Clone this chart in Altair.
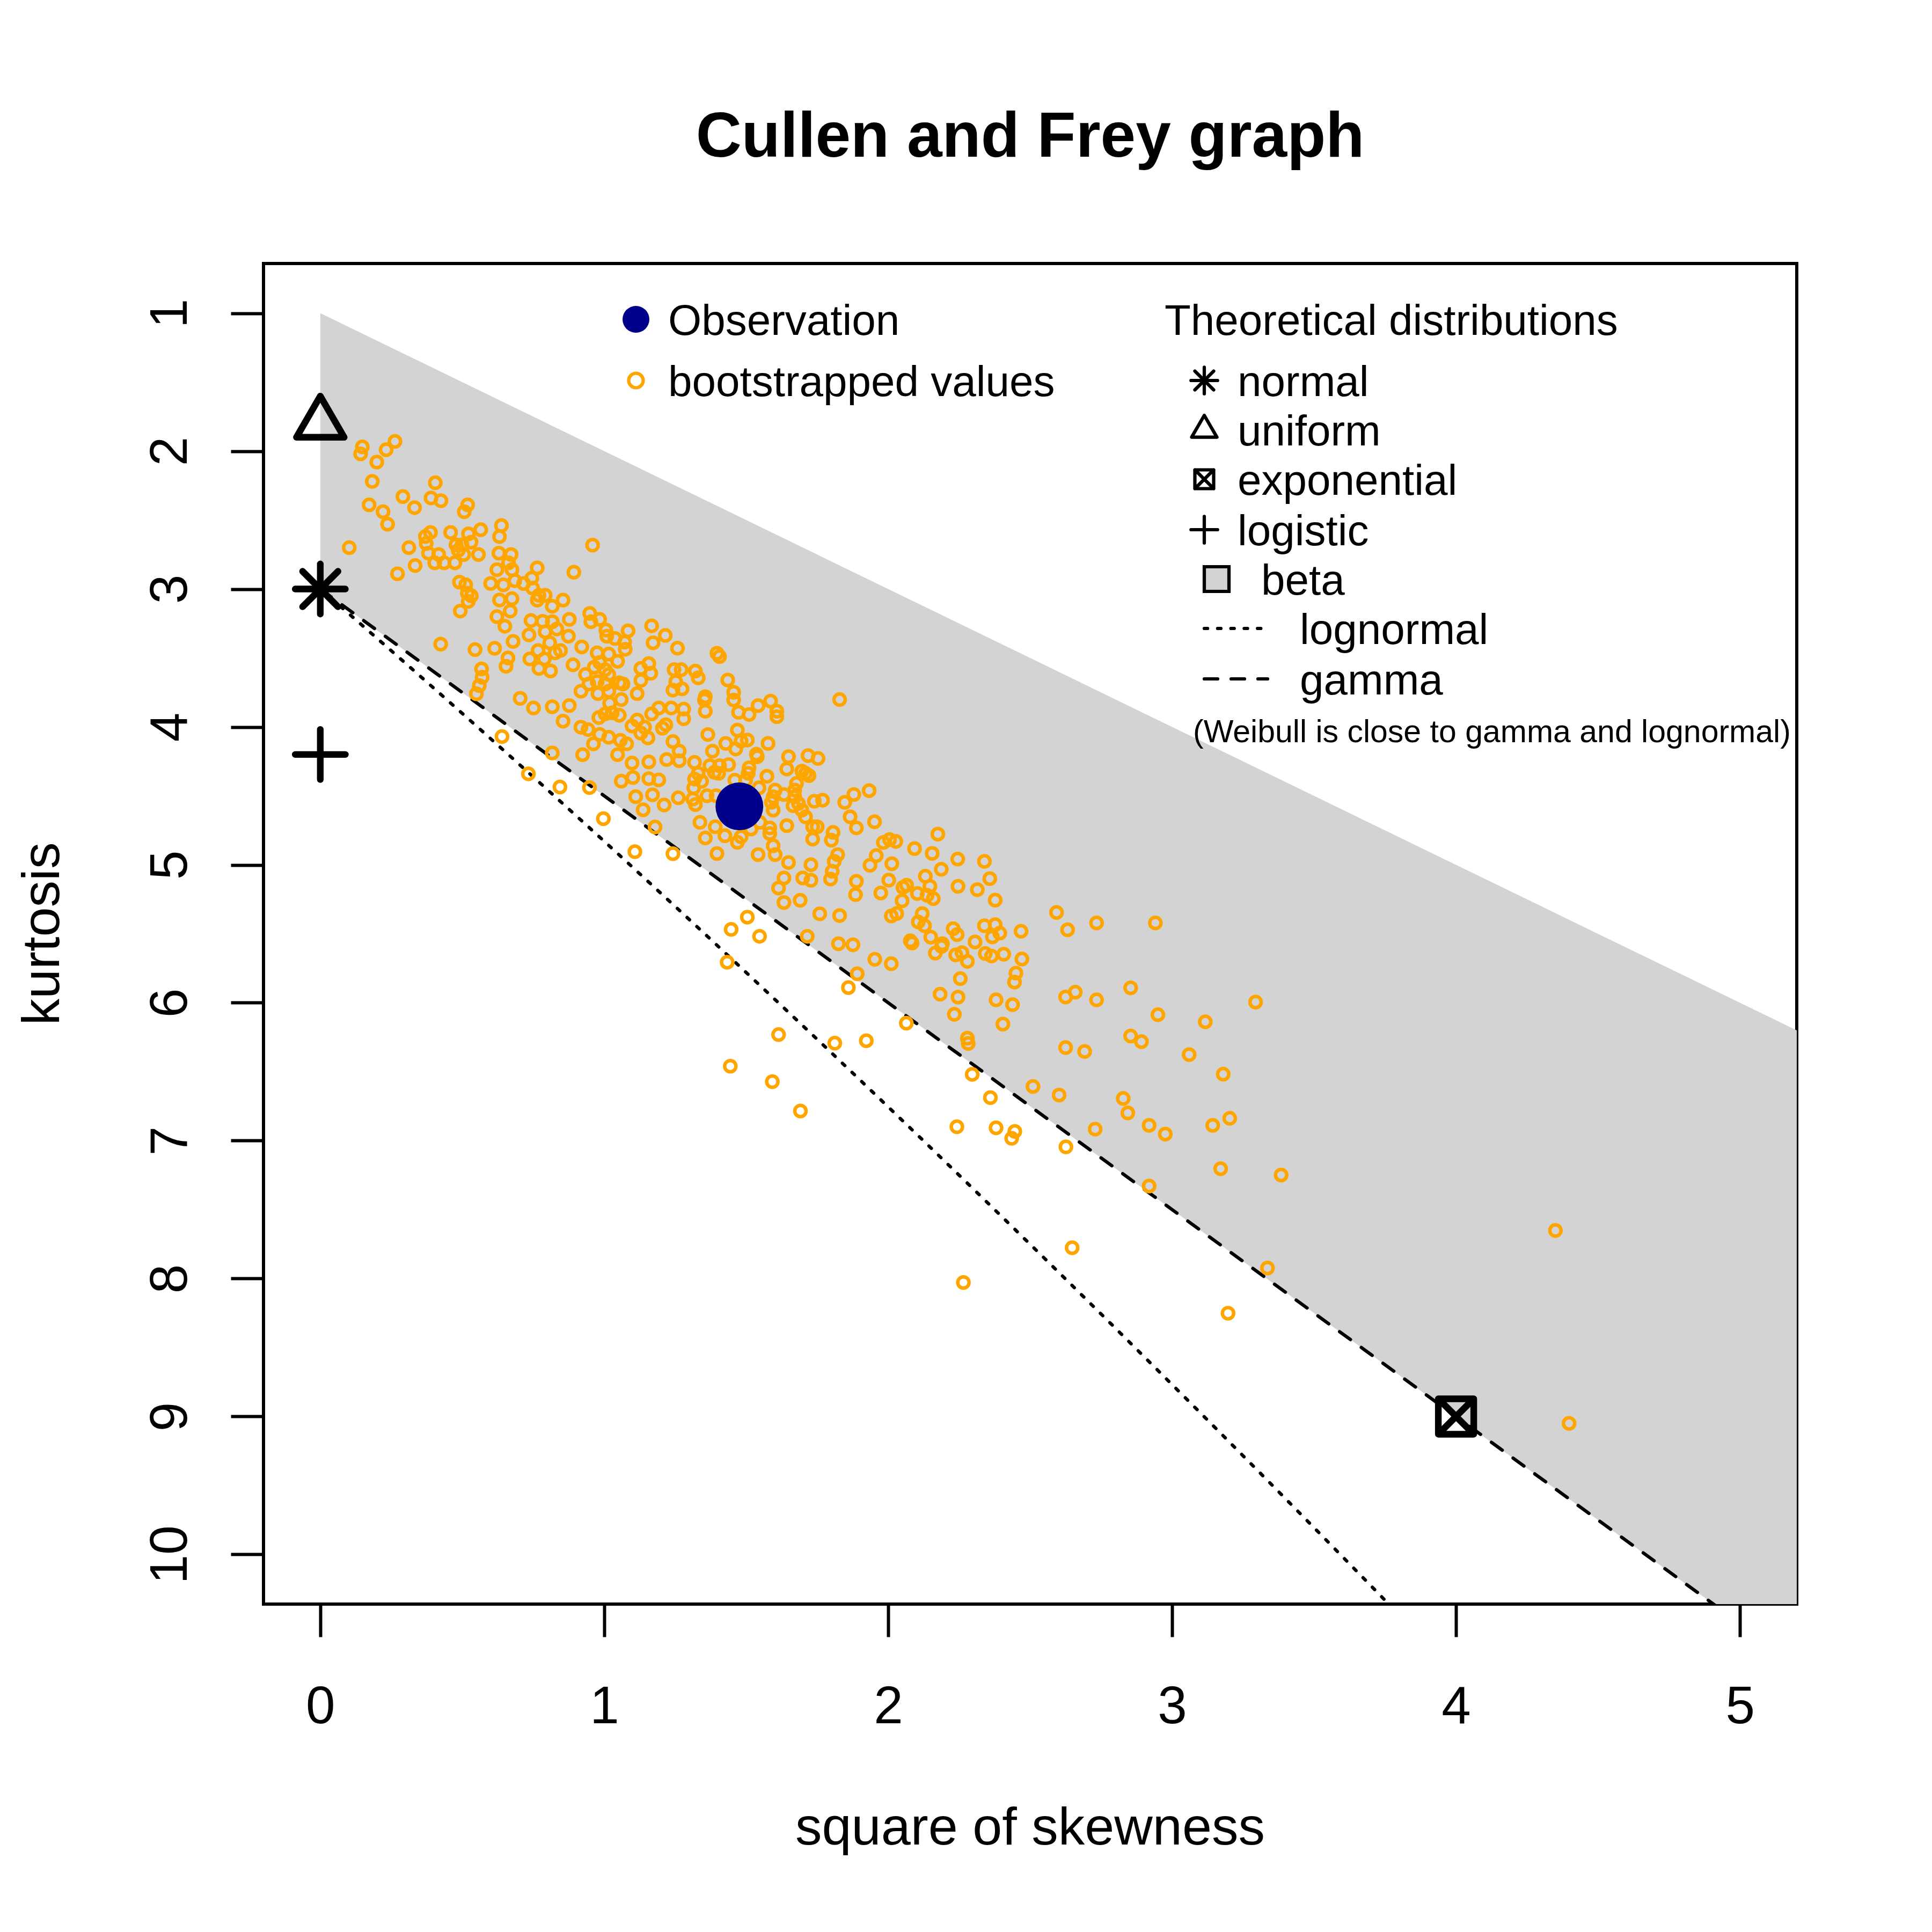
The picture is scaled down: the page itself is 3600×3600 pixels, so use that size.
import altair as alt
import numpy as np
import pandas as pd

FONT = "Liberation Sans"

# ---------------- data ----------------
boot_x = [
0.148,0.142,0.232,0.263,0.199,0.183,0.405,0.291,0.390,0.425,0.332,0.172,0.221,0.237,0.519,0.507,0.638,0.631,0.102,0.312,
0.370,0.388,0.459,0.522,0.565,0.373,0.478,0.531,0.499,0.381,0.417,0.486,0.505,0.557,0.403,0.436,0.474,0.334,0.272,0.629,
0.672,0.663,0.622,0.675,0.490,0.512,0.600,0.645,0.518,0.532,0.521,0.493,0.631,0.675,0.622,0.650,0.669,0.685,0.679,0.424,
0.545,0.614,0.661,0.568,0.654,
0.959,0.893,0.764,0.745,0.716,0.748,0.770,0.792,0.764,0.817,0.855,0.742,0.783,0.817,0.735,0.792,0.833,0.877,0.874,0.808,
0.767,0.738,0.789,0.827,0.846,0.811,0.770,0.921,0.890,0.949,0.953,0.984,1.006,1.009,1.038,1.084,1.072,1.074,0.975,1.016,
0.984,1.047,0.934,0.965,1.003,0.918,0.946,0.975,1.003,1.016,0.978,1.016,1.053,1.066,1.060,1.019,1.028,1.053,0.981,1.003,
1.167,1.215,1.172,1.258,1.129,1.157,1.164,1.129,1.116,1.246,1.271,1.252,1.274,1.242,1.192,1.167,1.236,1.280,1.280,1.217,
1.205,1.116,1.098,1.142,1.154,1.129,0.704,0.751,0.817,0.877,0.855,0.918,0.943,0.984,1.016,0.962,1.057,1.079,0.924,1.047,
1.098,1.157,1.101,1.060,1.157,1.192,1.220,1.242,1.264,1.264,1.111,1.170,1.261,1.211,1.137,1.179,0.817,0.733,0.844,0.948,
0.997,1.108,1.242,
1.397,1.406,1.829,1.321,1.331,1.435,1.456,1.456,1.356,1.353,1.356,1.473,1.510,1.542,1.586,1.608,1.608,1.365,1.469,1.428,
1.482,1.504,1.463,1.381,1.577,1.539,1.536,1.649,1.718,1.753,1.643,1.696,1.721,1.709,1.318,1.372,1.406,1.438,1.403,1.388,
1.331,1.318,1.343,1.315,1.510,1.507,1.460,1.498,1.573,1.677,1.671,1.545,1.602,1.633,1.595,1.589,1.671,1.684,1.696,1.665,
1.595,1.362,1.394,1.321,1.312,1.740,1.769,1.847,1.879,1.866,1.888,1.337,1.391,1.356,1.425,1.469,1.482,1.517,1.548,1.583,
1.583,1.643,1.709,1.734,1.750,1.734,1.806,1.800,1.397,1.542,1.595,1.602,1.649,1.728,1.822,1.810,1.797,1.803,1.633,1.614,
1.699,1.728,1.633,1.690,1.888,1.885,
1.504,1.447,1.547,1.715,1.825,1.876,1.433,1.891,1.860,1.614,1.812,1.444,1.592,1.691,1.759,1.829,
1.933,1.952,2.175,2.093,2.155,2.187,2.245,2.339,2.358,2.314,2.377,1.983,2.005,2.027,1.958,1.936,2.013,2.002,1.974,2.052,
2.065,2.049,2.131,2.147,2.103,2.137,2.159,2.246,2.030,2.011,2.120,2.106,2.128,2.150,2.078,2.084,2.191,2.188,2.166,2.229,
2.243,2.306,2.339,2.377,2.367,2.393,2.468,2.238,2.260,2.279,2.342,2.364,2.407,2.471,2.450,2.445,1.953,2.011,2.254,2.183,
2.246,2.380,2.438,2.233,
2.593,2.632,2.734,2.941,2.625,2.659,2.734,2.854,2.950,
2.064,1.923,2.404,2.279,2.282,2.625,2.692,2.854,2.892,3.060,2.296,2.360,2.510,2.602,2.828,2.844,2.919,2.976,2.729,2.242,
2.380,2.446,2.435,2.626,2.919,2.648,2.265,
3.117,3.294,3.180,3.203,3.143,3.171,3.384,3.336,3.197,
4.350,4.398,
0.560,0.550,0.570,0.640,
]
boot_y = [
1.97,2.02,1.99,1.93,2.08,2.22,2.23,2.33,2.34,2.36,2.41,2.39,2.44,2.53,2.39,2.44,2.54,2.62,2.70,2.70,
2.62,2.59,2.59,2.60,2.57,2.67,2.68,2.66,2.68,2.74,2.75,2.72,2.75,2.75,2.81,2.81,2.81,2.83,2.89,2.74,
2.75,2.81,2.86,2.86,2.95,2.97,2.96,2.97,3.03,3.05,3.09,3.16,3.08,3.07,3.20,3.27,3.16,2.94,3.38,3.40,
3.44,3.43,3.50,3.58,3.56,
2.682,2.878,2.847,2.921,2.960,2.994,3.046,3.046,3.081,3.125,3.081,3.229,3.234,3.237,3.333,3.310,3.290,3.220,3.342,3.390,
3.446,3.507,3.507,3.463,3.446,3.594,3.576,3.420,3.550,3.177,3.237,3.220,3.298,3.342,3.359,3.303,3.385,3.437,3.463,3.472,
3.533,3.524,3.620,3.567,3.585,3.741,3.689,3.672,3.689,3.620,3.759,3.741,3.680,3.689,3.802,3.828,3.898,3.915,3.932,3.906,
3.267,3.337,3.390,3.429,3.576,3.541,3.611,3.663,3.759,3.585,3.585,3.672,3.724,3.733,3.863,3.906,3.863,3.871,3.941,3.984,
4.010,3.950,3.993,4.002,4.080,4.045,3.793,3.863,3.854,3.845,3.958,4.002,4.019,4.054,4.075,4.123,4.097,4.123,4.201,4.201,
4.262,4.254,4.367,4.393,4.375,4.384,4.236,4.106,4.175,4.245,4.506,4.492,4.514,4.566,4.601,4.726,4.189,4.340,4.436,4.440,
4.665,4.905,4.919,
3.466,3.490,3.802,3.595,3.644,3.660,3.749,3.805,3.781,3.805,3.886,3.894,3.910,3.845,3.813,3.886,3.926,4.055,4.023,4.120,
4.103,4.095,4.160,4.176,4.120,4.216,4.197,4.216,4.208,4.229,4.305,4.321,4.353,4.337,4.257,4.281,4.281,4.273,4.337,4.329,
4.337,4.378,4.394,4.442,4.297,4.337,4.386,4.386,4.358,4.410,4.458,4.442,4.458,4.490,4.507,4.547,4.507,4.555,4.603,4.571,
4.603,4.499,4.499,4.563,4.523,4.539,4.531,4.547,4.490,4.652,4.732,4.692,4.724,4.805,4.789,4.837,4.797,4.740,4.692,4.732,
4.773,4.716,4.652,4.724,4.724,4.813,4.765,4.821,4.918,4.926,4.862,4.926,4.983,4.999,4.926,4.975,5.103,5.047,5.095,5.168,
5.095,5.112,5.273,5.257,5.120,5.216,
5.379,5.468,5.518,5.518,5.572,5.580,5.706,5.790,5.890,6.231,6.293,6.460,6.572,6.785,5.355,5.368,
4.462,4.688,4.777,4.882,4.917,5.032,4.958,4.975,5.100,5.180,5.256,4.838,4.817,4.830,4.933,5.003,4.992,5.111,5.204,5.164,
5.148,5.261,5.083,5.156,5.208,5.221,5.245,5.156,5.353,5.371,5.354,5.414,5.442,5.524,5.551,5.567,5.572,5.592,5.640,5.463,
5.506,5.559,5.442,5.434,5.522,5.495,5.482,5.653,5.637,5.700,5.643,5.661,5.648,5.683,5.785,5.850,5.685,5.717,5.825,5.938,
5.959,5.979,6.014,6.084,
5.345,5.471,5.421,5.421,5.958,5.923,5.979,5.892,6.087,
6.148,6.275,6.155,6.257,6.295,6.325,6.353,6.241,6.282,6.376,6.519,6.688,6.607,6.669,6.694,6.799,6.889,6.952,6.916,6.899,
6.907,6.933,6.983,7.045,7.329,7.776,8.028,
6.138,5.995,6.518,6.838,6.889,7.203,7.249,7.923,8.251,
7.651,9.050,
3.70,3.76,3.64,4.07,
]

obs_x = [1.476]
obs_y = [4.576]

theo_names = ["normal", "uniform", "exponential", "logistic"]
theo_x = [0.0, 0.0, 4.0, 0.0]
theo_y = [3.0, 1.8, 9.0, 4.2]

# beta region bounded by kurtosis = s2 + 1 and the gamma line kurtosis = 3 + 1.5 s2
beta_x = [0.0, 5.2]
beta_top = [1.0, 6.2]
beta_bottom = [3.0, 10.8]

gamma_x = [0.0, 5.2]
gamma_y = [3.0, 10.8]

# lognormal theoretical curve (parametrised by w = exp(sigma^2))
w = np.linspace(1.0, 1.4, 160)
logn_x = list((w + 2) ** 2 * (w - 1))
logn_y = list(w ** 4 + 2 * w ** 3 + 3 * w ** 2 - 3)

x_ticks = [0, 1, 2, 3, 4, 5]
y_ticks = [1, 2, 3, 4, 5, 6, 7, 8, 9, 10]

# ---------------- build ----------------
boot_df = pd.DataFrame({"x": boot_x, "y": boot_y})
obs_df = pd.DataFrame({"x": obs_x, "y": obs_y})
theo_df = pd.DataFrame({"name": theo_names, "x": theo_x, "y": theo_y})
beta_df = pd.DataFrame({"x": beta_x, "top": beta_top, "bottom": beta_bottom})
gamma_df = pd.DataFrame({"x": gamma_x, "y": gamma_y})
logn_df = pd.DataFrame({"x": logn_x, "y": logn_y})
one = pd.DataFrame({"k": [0]})

W, H = 2857, 2498
xs = alt.Scale(domain=[-0.2, 5.2], nice=False, zero=False)
ys = alt.Scale(domain=[0.64, 10.36], nice=False, zero=False, reverse=True)
AXX = alt.Axis(values=x_ticks, format="d", title=None, labelBaseline="alphabetic",
               labelPadding=160, labelAlign="center")
AXY = alt.Axis(values=y_ticks, format="d", title=None, labelAngle=270, labelAlign="center",
               labelBaseline="alphabetic", labelPadding=83)

def X(f="x"):
    return alt.X(f + ":Q", scale=xs, axis=AXX)

def Y(f="y"):
    return alt.Y(f + ":Q", scale=ys, axis=AXY)

LW = 6.2
ASTER = "M-0.934,0L0.934,0M0,-0.934L0,0.934M-0.66,-0.66L0.66,0.66M-0.66,0.66L0.66,-0.66"
TRI = "M0,-1.02L0.889,0.514L-0.889,0.514Z"
SQX = "M-0.66,-0.66L0.66,-0.66L0.66,0.66L-0.66,0.66ZM-0.66,-0.66L0.66,0.66M-0.66,0.66L0.66,-0.66"
PLUS = "M-0.934,0L0.934,0M0,-0.934L0,0.934"
SHAPES = {"normal": ASTER, "uniform": TRI, "exponential": SQX, "logistic": PLUS}

beta = alt.Chart(beta_df).mark_area(color="#D3D3D3", opacity=1, clip=True).encode(
    x=X(), y=Y("top"), y2="bottom:Q")
gamma = alt.Chart(gamma_df).mark_line(color="black", strokeWidth=LW, strokeDash=[25, 25],
                                      strokeCap="round", clip=True).encode(x=X(), y=Y())
logn = alt.Chart(logn_df).mark_line(color="black", strokeWidth=LW, strokeDash=[6.2, 18.6],
                                    strokeCap="round", clip=True).encode(x=X(), y=Y())
boot = alt.Chart(boot_df).mark_point(shape="circle", filled=False, color="#FFA500",
                                     strokeWidth=6.5, size=441, opacity=1, clip=True).encode(x=X(), y=Y())
obs = alt.Chart(obs_df).mark_circle(color="#00008B", size=7921, opacity=1).encode(x=X(), y=Y())

theo_layers = []
for nm in theo_names:
    theo_layers.append(
        alt.Chart(theo_df).transform_filter(alt.datum.name == nm).mark_point(
            shape=SHAPES[nm], filled=False, color="black", strokeWidth=12.4, size=10000,
            opacity=1, strokeCap="round", strokeJoin="round").encode(x=X(), y=Y()))


def txt(s, x, y, size, weight="normal", angle=0, align="left"):
    return alt.Chart(one).mark_text(text=s, font=FONT, fontSize=size, fontWeight=weight,
                                    angle=angle, align=align, baseline="alphabetic",
                                    color="black").encode(x=alt.value(x), y=alt.value(y))


def sym(shape, x, y, size, sw, color="black", filled=False, fill=None):
    kw = dict(shape=shape, filled=filled, color=color, strokeWidth=sw, size=size, opacity=1,
              strokeCap="round", strokeJoin="round")
    return alt.Chart(one).mark_point(**kw).encode(x=alt.value(x), y=alt.value(y))


texts = [
    txt("Cullen and Frey graph", W / 2, -199, 118, weight="bold", align="center"),
    txt("square of skewness", W / 2, 2946, 99, align="center"),
    txt("kurtosis", -381, H / 2, 99, angle=270, align="center"),
    txt("Observation", 754, 133, 80),
    txt("bootstrapped values", 754, 247, 80),
    txt("Theoretical distributions", 1679, 133, 80),
    txt("normal", 1815, 247, 80),
    txt("uniform", 1815, 339, 80),
    txt("exponential", 1815, 431, 80),
    txt("logistic", 1815, 525, 80),
    txt("beta", 1859, 617, 80),
    txt("lognormal", 1931, 709, 80),
    txt("gamma", 1931, 803, 80),
    txt("(Weibull is close to gamma and lognormal)", 1732, 892, 59),
]

LEG_SIZE = 2809
legend_marks = [
    alt.Chart(one).mark_circle(color="#00008B", size=2500, opacity=1).encode(
        x=alt.value(694), y=alt.value(104)),
    alt.Chart(one).mark_point(shape="circle", filled=False, color="#FFA500", strokeWidth=LW,
                              size=729, opacity=1).encode(x=alt.value(694), y=alt.value(218)),
    sym(ASTER, 1753, 218, LEG_SIZE, LW),
    sym(TRI, 1753, 310, LEG_SIZE, LW),
    sym(SQX, 1753, 402, LEG_SIZE, LW),
    sym(PLUS, 1753, 496, LEG_SIZE, LW),
    alt.Chart(one).mark_square(fill="#D3D3D3", stroke="black", strokeWidth=LW, size=2116,
                               opacity=1).encode(x=alt.value(1776), y=alt.value(588)),
    alt.Chart(one).mark_rule(color="black", strokeWidth=LW, strokeDash=[6.2, 18.6],
                             strokeCap="round").encode(
        x=alt.value(1753), x2=alt.value(1867), y=alt.value(680)),
    alt.Chart(one).mark_rule(color="black", strokeWidth=LW, strokeDash=[25, 25],
                             strokeCap="round").encode(
        x=alt.value(1753), x2=alt.value(1871), y=alt.value(774)),
]

chart = alt.layer(beta, gamma, logn, *theo_layers, boot, obs, *texts, *legend_marks).properties(
    width=W, height=H,
    autosize=alt.AutoSizeParams(type="none"),
    padding={"left": 491, "top": 491, "right": 3600 - 491 - W, "bottom": 3600 - 491 - H},
    background="white",
).configure_view(stroke="black", strokeWidth=6).configure_axis(
    domain=False, grid=False, ticks=True, tickColor="black", tickWidth=6, tickSize=61,
    labelFont=FONT, labelFontSize=98, labelColor="black", labelOverlap=False, labelFlush=False,
)

chart.save("out.html", embed_options={"renderer": "svg", "actions": False})
